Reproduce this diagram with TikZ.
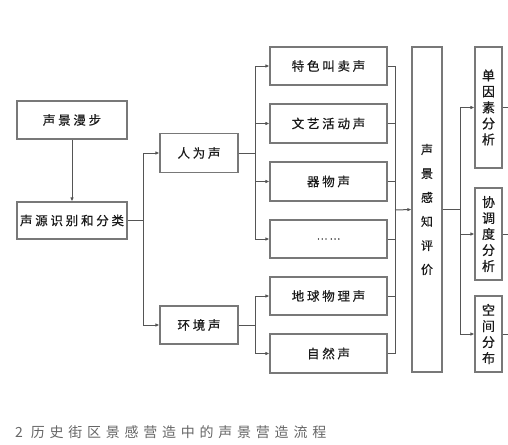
\documentclass[tikz,border=0pt]{standalone}
\usepackage{fontspec}
\usetikzlibrary{positioning, arrows.meta, calc}
\newfontfamily\cjk[LetterSpace=22, FakeBold=0.5]{Noto Sans CJK SC}
\newfontfamily\cjkcap[LetterSpace=34]{Noto Sans CJK SC}
\definecolor{linegray}{RGB}{85,85,85}
\definecolor{boxgray}{RGB}{120,120,120}
\tikzset{
	box/.style={draw=boxgray, line width=1.1pt, fill=white, inner sep=0pt,
		font=\cjk\fontsize{12.5}{12.5}\selectfont, text=black!90},
	vbox/.style={box, align=center, font=\cjk\fontsize{13}{16}\selectfont},
	conn/.style={draw=linegray, line width=1pt},
	arr/.style={conn, -{Latex[length=4pt, width=3.5pt]}}
}

\begin{document}
\begin{tikzpicture}[x=1pt, y=-1pt]
				\useasboundingbox (0,0) rectangle (508,444);
				% left column
				\node[box, minimum width=110pt, minimum height=38pt] (walk) at (72,120) {声景漫步};
				\node[box, minimum width=110pt, minimum height=37pt] (src) at (72,220.5) {声源识别和分类};
				% sound classes
				\node[box, minimum width=78pt, minimum height=39pt] (human) at (199,153) {人为声};
				\node[box, minimum width=78pt, minimum height=38pt] (env) at (199,325) {环境声};
				% sound types
				\node[box, minimum width=117pt, minimum height=38pt] (shout) at (328.5,66) {特色叫卖声};
				\node[box, minimum width=117pt, minimum height=39pt] (art) at (328.5,123.5) {文艺活动声};
				\node[box, minimum width=117pt, minimum height=39pt] (tool) at (328.5,181.5) {器物声};
				\node[box, minimum width=117pt, minimum height=38pt] (etc) at (328.5,239) {\fontsize{10}{10}\selectfont ……};
				\node[box, minimum width=117pt, minimum height=38pt] (geo) at (328.5,296) {地球物理声};
				\node[box, minimum width=117pt, minimum height=39pt] (nature) at (328.5,353.5) {自然声};
				% evaluation
				\node[vbox, minimum width=30pt, minimum height=325pt,
					font=\cjk\fontsize{12}{24}\selectfont] (eval) at (427,209.5) {声\\景\\感\\知\\评\\价};
				\node[vbox, minimum width=27pt, minimum height=121pt] (single) at (488.5,107.5) {单\\因\\素\\分\\析};
				\node[vbox, minimum width=27pt, minimum height=92pt] (harmony) at (488.5,234) {协\\调\\度\\分\\析};
				\node[vbox, minimum width=27pt, minimum height=76pt] (space) at (488.5,334) {空\\间\\分\\布};
				\coordinate (collect) at (395,210);
				% connectors
				\draw[arr] (walk) -- (src);
				\foreach \t in {human, env}
					\draw[arr] (src.east) -- ++(16,0) |- (\t.west);
				\foreach \t in {shout, art, tool, etc}
					\draw[arr] (human.east) -- ++(17,0) |- (\t.west);
				\foreach \t in {geo, nature}
					\draw[arr] (env.east) -- ++(17,0) |- (\t.west);
				\foreach \s in {shout, art, tool, etc, geo, nature}
					\draw[conn] (\s.east) -| (collect);
				\draw[arr] (collect) -- (eval.west);
				\foreach \t in {single, harmony, space}
					\draw[arr] (eval.east) -- ++(18,0) |- (\t.west);
				\foreach \t in {single, harmony, space}
					\draw[conn] (\t.east) -- ++(8,0);
				% caption
				\node[anchor=west, inner sep=0pt, text=black!60,
					font=\cjkcap\fontsize{14}{14}\selectfont] (caption) at (15,432.5) {2 历史街区景感营造中的声景营造流程};
			\end{tikzpicture}
\end{document}
